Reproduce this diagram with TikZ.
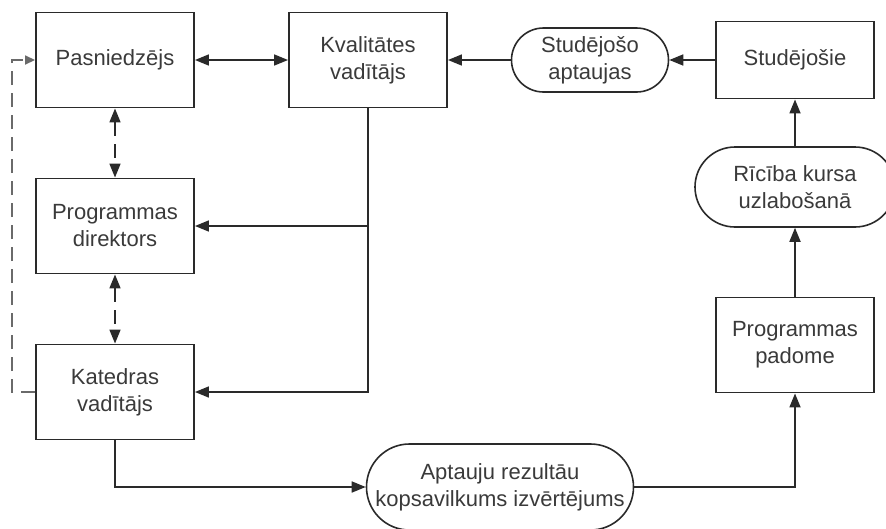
\documentclass[tikz,border=0pt]{standalone}
\usepackage{fontspec}
\setmainfont{Liberation Sans}
\usepackage{tikz}
\usetikzlibrary{positioning, calc, arrows.meta, shapes.misc}
\definecolor{linegray}{HTML}{2A2A2A}
\definecolor{textgray}{HTML}{3A3A3A}
\tikzset{box/.style = {rectangle, draw=linegray, line width=1.9pt, minimum width=158, minimum height=95,
                       inner sep=0pt, align=center, text=textgray, font=\fontsize{22}{27}\selectfont}}
\tikzset{term/.style = {rounded rectangle, draw=linegray, line width=1.6pt, inner sep=0pt,
                        align=center, text=textgray, font=\fontsize{22}{27}\selectfont}}
\tikzset{arr/.style = {draw=linegray, line width=1.7pt, -{Triangle[length=14pt,width=11pt]}}}
\tikzset{both/.style = {draw=linegray, line width=1.7pt, {Triangle[length=14pt,width=11pt]}-{Triangle[length=14pt,width=11pt]}}}

\begin{document}
\begin{tikzpicture}[x=1pt, y=-1pt]
            \useasboundingbox (0, 0) rectangle (886, 528);

            \node [box]                      (pas)  at (115,  60) {Pasniedzējs};
            \node [box]                      (kval) at (368,  60) {Kvalitātes\\vadītājs};
            \node [term, minimum width=157, minimum height=64] (apt) at (590, 60) {Studējošo\\aptaujas};
            \node [box, minimum height=77]   (stud) at (795,  60) {Studējošie};
            \node [term, minimum width=200, minimum height=80] (ric) at (795, 187) {Rīcība kursa\\uzlabošanā};
            \node [box]                      (pad)  at (795, 345) {Programmas\\padome};

            \node [box]                      (dir)  at (115, 226) {Programmas\\direktors};
            \node [box]                      (kat)  at (115, 392) {Katedras\\vadītājs};
            \node [term, minimum width=267, minimum height=86] (rez) at (500, 487) {Aptauju rezultāu\\kopsavilkums izvērtējums};

            \coordinate (fb) at (12, 392);
            \coordinate (ft) at (12,  60);

            \draw [both] (pas) -- (kval);
            \draw [arr] (apt) -- (kval);
            \draw [arr] (stud) -- (apt);
            \draw [arr] (ric) -- (stud);
            \draw [arr] (pad) -- (ric);
            \draw [arr] (rez.east) -| (pad);
            \draw [arr] (kat) |- (rez.west);
            \draw [arr] (kval.south) |- (dir.east);
            \draw [arr] (kval.south) |- (kat.east);
            \draw [both, dash pattern=on 14pt off 8pt] (pas) -- (dir);
            \draw [both, dash pattern=on 14pt off 8pt] (dir) -- (kat);
            \draw [arr, draw=linegray!70, -{Triangle[length=10pt,width=9pt]}, dash pattern=on 14pt off 8pt]
                (kat.west) -- (fb) -- (ft) -- (pas.west);
        \end{tikzpicture}
\end{document}
